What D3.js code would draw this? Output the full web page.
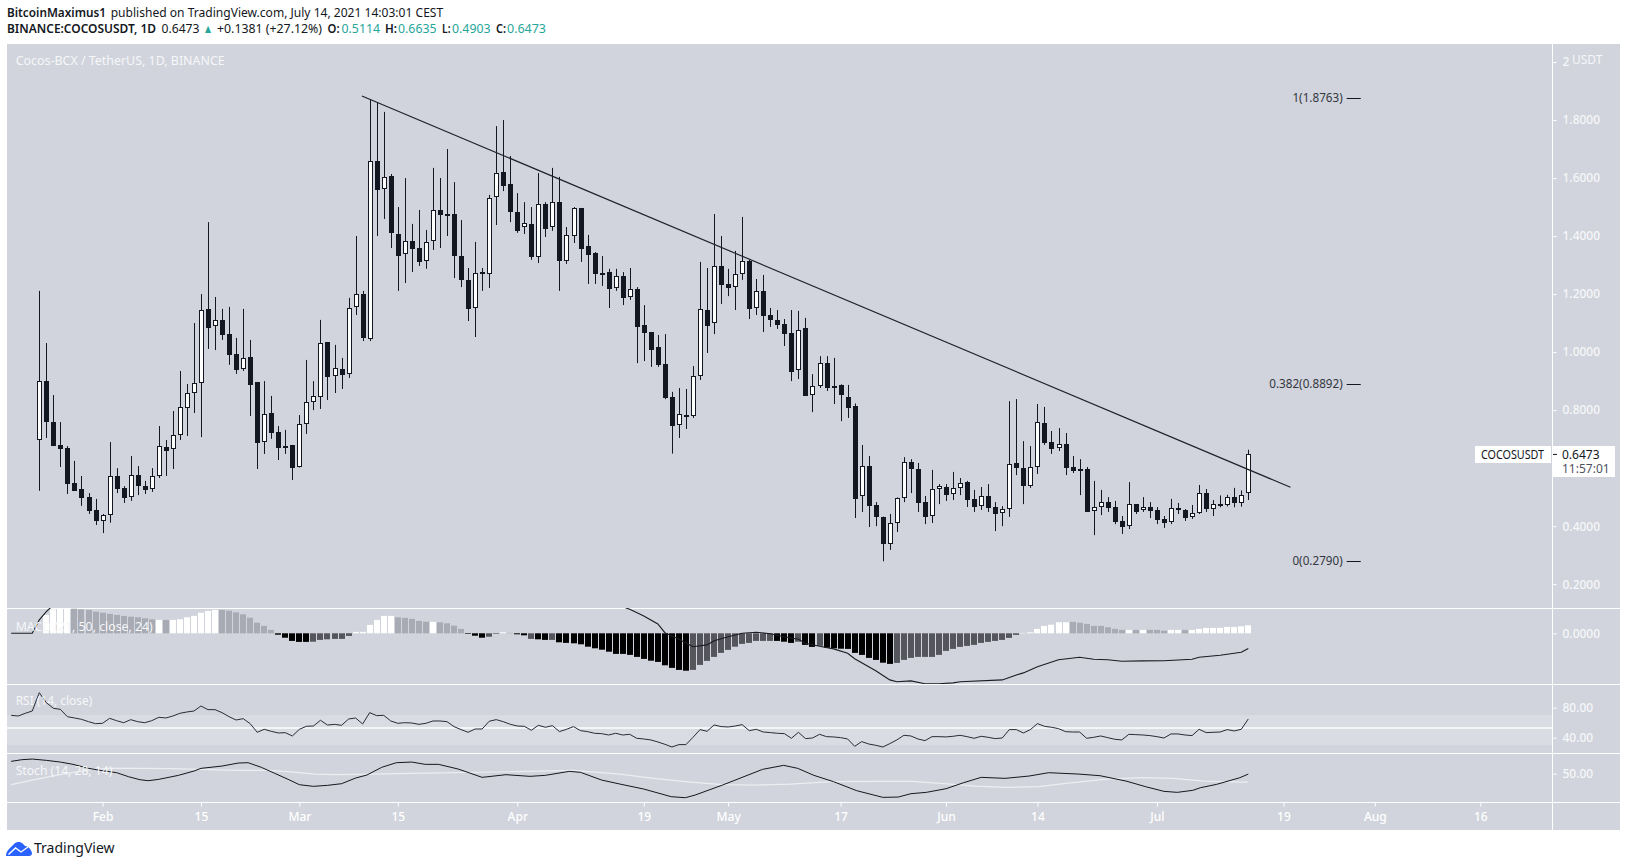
<!DOCTYPE html>
<html>
<head>
<meta charset="utf-8">
<script src="https://cdn.jsdelivr.net/npm/d3@7"></script>
<style>
	body { margin: 0; background: #fff; }
	svg { display: block; font-family: "Noto Sans", sans-serif; }
	.axis path { display: none; }
	.axis line { stroke: #fff; }
	.axis text { fill: #f6f7f9; font-size: 12px; font-weight: 500; font-family: "Noto Sans", sans-serif; }
</style>
</head>
<body>
<svg id="chart" width="1627" height="867"></svg>
<script>
// candles, one per day from firstDay
const firstDay = new Date(Date.UTC(2021, 0, 23));
const opens = [
	.695,.900,.759,.680,.669,.549,.528,.501,.456,.419,
	.437,.572,.532,.498,.576,.538,.526,.571,.673,.664,
	.712,.808,.857,.891,1.149,1.088,1.111,1.062,.993,.941,
	.983,.897,.688,.790,.725,.676,.680,.602,.750,.826,
	.843,1.035,.915,.942,.922,1.153,1.200,1.046,1.659,1.560,
	1.607,1.407,1.336,1.383,1.359,1.312,1.381,1.490,1.475,1.476,
	1.331,1.249,1.150,1.276,1.268,1.532,1.621,1.579,1.483,1.429,
	1.442,1.326,1.511,1.429,1.517,1.312,1.401,1.497,1.366,1.342,
	1.273,1.276,1.219,1.262,1.188,1.218,1.093,1.069,1.018,.959,
	.845,.748,.782,.778,.915,1.145,1.098,1.297,1.235,1.222,
	1.267,1.314,1.150,1.211,1.128,1.111,1.097,1.066,.936,1.083,
	.850,.881,.961,.882,.885,.844,.814,.502,.606,.473,
	.432,.337,.409,.495,.621,.597,.483,.433,.526,.535,
	.509,.530,.552,.494,.467,.504,.466,.443,.457,.618,
	.600,.538,.602,.756,.690,.667,.683,.604,.596,.597,
	.450,.464,.483,.466,.418,.398,.476,.453,.466,.456,
	.425,.412,.463,.456,.429,.443,.513,.457,.470,.471,
	.499,.481,.5114
];
const highs = [
	1.211,1.031,.852,.759,.676,.625,.573,.514,.494,.442,
	.690,.600,.538,.642,.607,.556,.600,.745,.697,.797,
	.935,.890,1.100,1.200,1.448,1.190,1.149,1.156,1.049,1.149,
	1.042,.897,.900,.849,.745,.732,.680,.783,.973,.900,
	1.111,1.035,1.025,.980,1.187,1.400,1.211,1.872,1.862,1.828,
	1.614,1.500,1.600,1.442,1.490,1.421,1.635,1.600,1.700,1.586,
	1.455,1.290,1.380,1.290,1.542,1.779,1.800,1.676,1.548,1.517,
	1.500,1.617,1.517,1.635,1.604,1.431,1.500,1.497,1.404,1.345,
	1.331,1.287,1.287,1.276,1.290,1.224,1.162,1.069,1.059,1.062,
	.863,.876,.873,.952,1.311,1.290,1.476,1.400,1.287,1.349,
	1.466,1.318,1.252,1.266,1.152,1.145,1.114,1.145,1.142,1.118,
	.924,.986,.986,.980,.889,.887,.823,.680,.642,.483,
	.433,.442,.499,.638,.631,.618,.504,.594,.545,.545,
	.587,.566,.556,.525,.535,.545,.483,.469,.831,.838,
	.693,.676,.821,.811,.728,.738,.721,.642,.631,.604,
	.556,.525,.500,.487,.435,.552,.476,.500,.483,.466,
	.435,.494,.480,.459,.473,.542,.528,.490,.506,.508,
	.532,.523,.6635
];
const lows = [
	.522,.704,.676,.604,.511,.521,.470,.442,.404,.376,
	.412,.514,.480,.487,.507,.511,.518,.566,.573,.597,
	.697,.711,.790,.707,1.011,1.007,1.042,.956,.925,.935,
	.780,.597,.649,.701,.628,.649,.559,.602,.718,.800,
	.804,.835,.859,.873,.911,1.128,1.038,1.038,1.400,1.459,
	1.359,1.211,1.238,1.276,1.297,1.287,1.352,1.359,1.400,1.255,
	1.224,1.107,1.052,1.211,1.221,1.438,1.555,1.448,1.411,1.407,
	1.318,1.307,1.397,1.418,1.211,1.304,1.376,1.311,1.235,1.235,
	1.228,1.152,1.211,1.162,1.180,.962,.969,.949,.949,.838,
	.650,.704,.735,.773,.904,.997,1.062,1.166,1.193,1.145,
	1.249,1.114,1.128,1.069,1.087,1.080,1.021,.900,.907,.849,
	.793,.876,.866,.821,.762,.773,.428,.449,.397,.400,
	.279,.318,.380,.483,.514,.449,.407,.411,.476,.487,
	.490,.507,.466,.449,.456,.449,.383,.400,.432,.576,
	.476,.532,.580,.680,.649,.659,.576,.583,.507,.449,
	.369,.438,.449,.407,.373,.390,.442,.449,.428,.407,
	.394,.407,.442,.418,.425,.442,.449,.435,.465,.468,
	.465,.467,.4903
];
const closes = [
	.899,.760,.676,.666,.545,.521,.497,.452,.419,.438,
	.572,.528,.497,.575,.538,.525,.572,.675,.659,.713,
	.810,.858,.892,1.144,1.083,1.110,1.059,.990,.938,.979,
	.887,.687,.786,.721,.670,.669,.600,.751,.827,.848,
	1.030,.914,.944,.921,1.151,1.199,1.049,1.658,1.559,1.602,
	1.411,1.331,1.382,1.355,1.311,1.378,1.489,1.473,1.473,1.331,
	1.249,1.149,1.272,1.269,1.530,1.616,1.573,1.483,1.418,1.444,
	1.328,1.509,1.424,1.516,1.314,1.403,1.496,1.355,1.335,1.269,
	1.269,1.218,1.261,1.187,1.216,1.087,1.066,1.007,.956,.842,
	.745,.786,.779,.917,1.147,1.090,1.296,1.231,1.221,1.268,
	1.313,1.149,1.209,1.125,1.111,1.093,1.062,.931,1.075,.849,
	.882,.961,.876,.877,.849,.807,.494,.606,.469,.432,
	.339,.410,.496,.620,.597,.480,.432,.527,.537,.507,
	.530,.548,.490,.466,.503,.463,.442,.458,.613,.600,
	.538,.603,.758,.687,.666,.682,.600,.590,.591,.449,
	.465,.482,.463,.414,.397,.475,.449,.465,.452,.421,
	.411,.461,.456,.428,.444,.513,.459,.475,.475,.499,
	.479,.509,.6473
];

// drawings on the price pane, days counted from firstDay
const trendDays = [45.9, 178];
const trendPrices = [1.883, .534];
const fibRatios = ["1", "0.382", "0"];
const fibPrices = [1.8763, .8892, .279];
const fibDays = [186, 188];

// macd histogram, one bar per candle
const macdHist = [
	0,.092,.120,.130,.133,.123,.120,.117,.108,.103,
	.097,.092,.087,.083,.080,.075,.070,.067,.067,.067,
	.070,.080,.087,.103,.112,.117,.117,.113,.105,.095,
	.078,.053,.037,.017,-.007,-.022,-.038,-.043,-.043,-.042,
	-.033,-.030,-.028,-.028,-.013,.007,.007,.042,.067,.087,
	.087,.080,.077,.072,.062,.058,.057,.055,.050,.038,
	.022,-.003,-.012,-.022,-.017,-.003,.005,.002,-.005,-.010,
	-.028,-.030,-.033,-.033,-.045,-.048,-.050,-.055,-.067,-.075,
	-.082,-.092,-.103,-.103,-.108,-.118,-.128,-.137,-.143,-.160,
	-.173,-.183,-.187,-.183,-.158,-.138,-.118,-.098,-.083,-.067,
	-.053,-.048,-.038,-.038,-.038,-.038,-.042,-.048,-.042,-.058,
	-.068,-.063,-.072,-.075,-.077,-.078,-.098,-.108,-.123,-.133,
	-.147,-.153,-.148,-.133,-.123,-.118,-.118,-.118,-.108,-.088,
	-.078,-.068,-.063,-.058,-.048,-.043,-.038,-.033,-.023,-.008,
	.002,.005,.022,.037,.043,.055,.055,.057,.053,.047,
	.037,.037,.030,.022,.017,.017,.017,.017,.017,.017,
	.013,.017,.017,.017,.017,.022,.027,.027,.027,.032,
	.032,.035,.040
];
// runs of bar state: a up above zero, b down above zero, c down below zero, d up below zero
const macdRuns = [
	["a",5],["b",12],["a",1],["b",1],["a",7],["b",8],["c",5],["d",6],["a",6],["b",5],
	["a",1],["b",4],["c",3],["d",2],["a",1],["b",1],["c",2],["d",1],["c",2],["d",1],
	["c",19],["d",12],["c",3],["d",1],["c",2],["d",1],["c",10],["d",18],["a",7],["b",8],
	["a",1],["b",1],["a",1],["b",3],["a",2],["b",1],["a",9]
];
const macdLineDays = [-4,-1,0,1,2,3,40,70,84,86,88,89,91,93,95,96,98,100,102,104,106,108,109,111,113,115,116,119,121,122,124,126,128,130,131,137,139,140,142,145,148,150,152,154,157,160,164,165,168,171,172];
const macdLine = [0,0,.067,.108,.142,.170,.300,.300,.120,.087,.047,.003,-.030,-.067,-.058,-.037,-.017,0,.005,-.002,-.017,-.030,-.050,-.065,-.078,-.100,-.127,-.187,-.233,-.242,-.238,-.252,-.252,-.248,-.242,-.233,-.208,-.198,-.167,-.132,-.120,-.130,-.132,-.140,-.138,-.137,-.130,-.120,-.110,-.095,-.076];

// rsi, one value a day starting 4 days before the first candle
const rsiStart = -4;
const rsiValues = [
	69.8,68.9,72.5,75.6,
	100,86.7,79.2,77.8,68,66.3,64.5,61.4,58.7,59.2,
	65.8,62.7,60,64,61.4,60,62.7,67.2,66.3,68.9,
	72.5,74.3,75.6,82.3,77.4,77.4,73.4,68,63.6,65.4,
	58.7,47.2,51.2,48.5,46.3,46.7,42.3,51.2,55.2,55.6,
	63.2,56.9,57.8,56.5,64.9,66.3,58.3,73.4,69.4,69.8,
	62.3,59.2,60,59.6,57.8,59.2,62.3,62.3,61.4,54.8,
	50.8,47.2,51.6,51.6,61.9,64.1,61.4,57.9,55.6,55.2,
	49.9,56.5,53.9,56.1,48.1,51.2,54.8,49.4,48.1,45.9,
	45.4,43.6,45.9,43.6,44.5,39.2,38.3,37,34.3,31.2,
	27.6,30.8,30.8,40.5,50.8,48.5,57,54.8,54.3,55.6,
	57.4,49.4,51.2,47.6,46.8,45.9,45.4,39.2,47.2,38.8,
	39.6,44.5,41.4,41,40.1,38.3,28.5,34.8,31.6,29.9,
	27.6,32.1,37,43.2,42.3,38.3,36.1,41.4,41.4,41,
	41.9,43.2,41.4,39.2,41.9,40.5,38.8,39.6,50.8,50.8,
	46.3,50.8,58.8,55.2,53.9,52.1,48.1,47.6,47.6,39.2,
	40.5,42.3,40.1,37.9,37,44.5,44.1,43.6,42.8,41.4,
	39.6,45,45,43.6,42.8,51.2,46.8,47.2,47.6,50.8,
	49,51.2,65
];
const rsiBand = [70, 30];
const rsiLevel = 53;

const stochKDays = [-4,-2.5,-1,1,3,4.8,7,9,11,12.7,14.3,15.5,17,19.8,22,23,26,28.3,29.7,31.6,33.5,35.4,37,39,41,43,45,46.6,48.7,50.8,53,54.9,56.8,59.6,63,66.4,69.8,72,75.4,77,80,82.6,86,89.9,91.9,93.3,97.2,102.9,105.9,107.9,110.2,113,116.3,120,122.2,124,126.2,129,131.5,134,137.4,140.8,143.6,147.8,150.9,154.6,157.4,160,161.9,164.1,165.2,167.5,170.8,172];
const stochK = [74.7,78,79.3,76.7,73.3,68.7,60.7,56,52,44,38,36,38.7,46.7,55.3,60.7,65.3,71.3,72,62.7,50.7,38.7,28,24.7,26.7,30,41.3,47.3,62.7,72,73.3,68.7,68.7,59.3,42.7,48,44.7,46.7,54.7,52.7,37.3,29.3,19.3,4,2,7.3,27.3,58.7,66.7,60.7,46.7,34,16,2.7,3.3,10,12.7,20,32,42.7,40.7,45.3,52,49.3,46,35.3,24,14.7,12.7,16.7,22,28.7,42,49.3];
const stochDDays = [-4,-1,1.8,4.6,7.5,10.3,14.1,18.8,22.6,28.3,32.6,35.4,39.2,42.5,47.3,54.9,67.5,76,82.6,87.7,92.7,97.2,101.7,106.8,113,118.6,124.2,128.7,133.2,137.7,142.2,146.1,151.8,156.9,161.3,165.8,170.8,172];
const stochD = [28,37.3,45.3,52,58.7,60.7,60.7,60,58.7,56.7,56.7,54,49.3,48,49.3,51.3,54,56.7,49.3,40,33.3,28,27.3,29.3,34,34.7,34.7,30,25.3,22.7,24,30.7,39.3,42,40.7,35.3,33.3,33.3];

// axis ticks
const priceTicks = [2, 1.8, 1.6, 1.4, 1.2, 1, .8, .4, .2];
const macdTicks = [0];
const rsiTicks = [80, 40];
const stochTicks = [50];
const timeTicks = ["2021-02-01","2021-02-15","2021-03-01","2021-03-15","2021-04-01","2021-04-19","2021-05-01","2021-05-17","2021-06-01","2021-06-14","2021-07-01","2021-07-19","2021-08-01","2021-08-16"];
const timeLabels = ["Feb","15","Mar","15","Apr","19","May","17","Jun","14","Jul","19","Aug","16"];

// layout
const paneLeft = 7, paneRight = 1620, axisX = 1552;
const paneTops = [44, 608, 684, 753, 802, 830];
const inkColor = "#131722";
const tealColor = "#26a69a";

const svg = d3.select("#chart");
const dayDate = (i) => new Date(firstDay.getTime() + i * 864e5);

const xscale = d3.scaleUtc()
	.domain([firstDay, dayDate(172)])
	.range([39.3, 1248.3]);
const dayX = (i) => xscale(dayDate(i));
const priceY = d3.scaleLinear().domain([0, 2]).range([642.2, 62]);
const macdY = d3.scaleLinear().domain([0, .1]).range([633.3, 613.3]);
const rsiY = d3.scaleLinear().domain([40, 80]).range([737.7, 707.7]);
const stochY = d3.scaleLinear().domain([50, 100]).range([773.7, 748.7]);

// background
svg.append("rect")
	.attr("x", paneLeft).attr("y", paneTops[0])
	.attr("width", paneRight - paneLeft).attr("height", paneTops[5] - paneTops[0])
	.attr("fill", "#d1d4dc");

// clip for each pane
const defs = svg.append("defs");
[["clipPrice", 0], ["clipMacd", 1], ["clipRsi", 2], ["clipStoch", 3]].forEach(([id, i]) => {
	defs.append("clipPath").attr("id", id).append("rect")
		.attr("x", paneLeft).attr("y", paneTops[i])
		.attr("width", axisX - paneLeft).attr("height", paneTops[i + 1] - paneTops[i]);
});

// header, each piece squeezed to the width it has in the screenshot
const headerPieces = [
	["BitcoinMaximus1", 7, 99, 17, 600, inkColor],
	["published on TradingView.com, July 14, 2021 14:03:01 CEST", 110.7, 332.5, 17, 400, inkColor],
	["BINANCE:COCOSUSDT, 1D", 7, 149, 33, 600, inkColor],
	["0.6473", 161.5, 38, 33, 400, inkColor],
	["▲", 203, 10, 33, 400, tealColor],
	["+0.1381 (+27.12%)", 217, 105, 33, 400, inkColor],
	["O:", 327.5, 12, 33, 600, inkColor],
	["0.5114", 341.5, 38.5, 33, 400, tealColor],
	["H:", 385, 12, 33, 600, inkColor],
	["0.6635", 398, 38.5, 33, 400, tealColor],
	["L:", 442, 8.5, 33, 600, inkColor],
	["0.4903", 452, 38.5, 33, 400, tealColor],
	["C:", 496, 10, 33, 600, inkColor],
	["0.6473", 507, 39, 33, 400, tealColor]
];
svg.append("g").selectAll("text").data(headerPieces).join("text")
	.attr("x", (d) => d[1]).attr("y", (d) => d[3])
	.attr("textLength", (d) => d[2]).attr("lengthAdjust", "spacingAndGlyphs")
	.attr("font-weight", (d) => d[4]).attr("fill", (d) => d[5])
	.style("font-size", "12.5px")
	.text((d) => d[0]);

// rsi band and level go under the line
const rsiGroup = svg.append("g").attr("clip-path", "url(#clipRsi)");
rsiGroup.append("rect")
	.attr("x", paneLeft).attr("width", axisX - paneLeft)
	.attr("y", rsiY(rsiBand[0])).attr("height", rsiY(rsiBand[1]) - rsiY(rsiBand[0]))
	.attr("fill", "#fff").attr("opacity", .2);
rsiGroup.append("line")
	.attr("x1", paneLeft).attr("x2", axisX)
	.attr("y1", rsiY(rsiLevel)).attr("y2", rsiY(rsiLevel))
	.attr("stroke", "#f4f5f7").attr("stroke-width", 2);

// pane separators and price axis line
svg.append("g").selectAll("line").data(paneTops.slice(1, 5)).join("line")
	.attr("x1", paneLeft).attr("x2", paneRight)
	.attr("y1", (d) => d + .5).attr("y2", (d) => d + .5)
	.attr("stroke", "#fff");
svg.append("line")
	.attr("x1", axisX + .5).attr("x2", axisX + .5)
	.attr("y1", paneTops[0]).attr("y2", paneTops[5])
	.attr("stroke", "#fff");

// candles
const candles = svg.append("g").attr("clip-path", "url(#clipPrice)")
	.selectAll("g").data(opens).join("g");
const snapX = (i) => Math.round(dayX(i)) + .5;
candles.append("line")
	.attr("x1", (d, i) => snapX(i)).attr("x2", (d, i) => snapX(i))
	.attr("y1", (d, i) => priceY(highs[i])).attr("y2", (d, i) => priceY(lows[i]))
	.attr("stroke", inkColor);
candles.append("rect")
	.attr("x", (d, i) => snapX(i) - 2).attr("width", 4)
	.attr("y", (d, i) => Math.round(priceY(Math.max(opens[i], closes[i]))) + .5)
	.attr("height", (d, i) => Math.max(1, Math.round(Math.abs(priceY(opens[i]) - priceY(closes[i])) - 1)))
	.attr("fill", (d, i) => (closes[i] > opens[i] ? "#fff" : inkColor))
	.attr("stroke", inkColor);

// trend line
svg.append("line")
	.attr("x1", dayX(trendDays[0])).attr("y1", priceY(trendPrices[0]))
	.attr("x2", dayX(trendDays[1])).attr("y2", priceY(trendPrices[1]))
	.attr("stroke", "#1f222b").attr("stroke-width", 1.2);

// fib levels
const fib = svg.append("g").selectAll("g").data(fibPrices).join("g");
fib.append("line")
	.attr("x1", dayX(fibDays[0])).attr("x2", dayX(fibDays[1]))
	.attr("y1", (d) => Math.round(priceY(d)) + .5).attr("y2", (d) => Math.round(priceY(d)) + .5)
	.attr("stroke", inkColor);
fib.append("text")
	.attr("x", dayX(fibDays[0]) - 4).attr("y", (d) => priceY(d))
	.attr("dy", "0.35em").attr("text-anchor", "end")
	.style("font-size", "11.7px").attr("fill", "#333741")
	.text((d, i) => `${fibRatios[i]}(${d.toFixed(4)})`);

// macd pane
const macdGroup = svg.append("g").attr("clip-path", "url(#clipMacd)");
const macdStates = macdRuns.flatMap(([s, n]) => d3.range(n).map(() => s));
const macdColor = { a: "#ffffff", b: "#a8aab4", c: "#000000", d: "#55565b" };
macdGroup.selectAll("rect").data(macdHist).join("rect")
	.attr("x", (d, i) => Math.round(dayX(i)) - 3)
	.attr("width", 6)
	.attr("y", (d) => Math.min(macdY(d), macdY(0)))
	.attr("height", (d) => Math.abs(macdY(d) - macdY(0)))
	.attr("fill", (d, i) => macdColor[macdStates[i]]);
const lineFor = (yscale) => d3.line().x((d) => dayX(d[0])).y((d) => yscale(d[1]));
macdGroup.append("path")
	.attr("d", lineFor(macdY)(d3.zip(macdLineDays, macdLine)))
	.attr("fill", "none").attr("stroke", "#1a1c22").attr("stroke-width", 1.1);

// rsi pane
rsiGroup.append("path")
	.attr("d", lineFor(rsiY)(rsiValues.map((v, i) => [rsiStart + i, v])))
	.attr("fill", "none").attr("stroke", "#2a2c33").attr("stroke-width", 1);

// stoch pane
const stochGroup = svg.append("g").attr("clip-path", "url(#clipStoch)");
stochGroup.append("path")
	.attr("d", lineFor(stochY)(d3.zip(stochDDays, stochD)))
	.attr("fill", "none").attr("stroke", "#eceef2").attr("stroke-width", 1.2);
stochGroup.append("path")
	.attr("d", lineFor(stochY)(d3.zip(stochKDays, stochK)))
	.attr("fill", "none").attr("stroke", "#15171c").attr("stroke-width", 1);

// pane titles
const paneTitles = [
	["Cocos-BCX / TetherUS, 1D, BINANCE", 65, 209],
	["MACD (21, 50, close, 24)", 631, 137],
	["RSI (14, close)", 705, 76.6],
	["Stoch (14, 28, 14)", 775, 96.6]
];
svg.append("g").selectAll("text").data(paneTitles).join("text")
	.attr("x", 15.7).attr("y", (d) => d[1])
	.attr("textLength", (d) => d[2]).attr("lengthAdjust", "spacingAndGlyphs")
	.style("font-size", "12.5px").attr("fill", "#f6f7f9")
	.text((d) => d[0]);

// price labels at the last bar
const lastY = priceY(closes[closes.length - 1]);
svg.append("rect").attr("x", 1475).attr("y", 446).attr("width", 76).attr("height", 17).attr("fill", "#fff");
svg.append("rect").attr("x", 1553).attr("y", 446).attr("width", 62).attr("height", 31).attr("fill", "#fff");

// axes
const rightAxis = (yscale, ticks, fmt) => svg.append("g")
	.attr("class", "axis")
	.attr("transform", `translate(${axisX + .5},0)`)
	.call(d3.axisRight(yscale).tickValues(ticks).tickSize(4).tickPadding(6).tickFormat(fmt));
rightAxis(priceY, priceTicks, (d) => (d === 2 ? "2" : d3.format(".4f")(d)));
rightAxis(macdY, macdTicks, d3.format(".4f"));
rightAxis(rsiY, rsiTicks, d3.format(".2f"));
rightAxis(stochY, stochTicks, d3.format(".2f"));

const timeDates = timeTicks.map((d) => new Date(d + "T00:00:00Z"));
const timeAxis = svg.append("g")
	.attr("class", "axis")
	.attr("transform", `translate(0,${paneTops[4] + .5})`)
	.call(d3.axisBottom(xscale).tickValues(timeDates).tickSize(4).tickPadding(6)
		.tickFormat((d, i) => timeLabels[i]));
timeAxis.selectAll("text").attr("font-weight", 600).style("fill", "#fff");

// texts on the last price labels
svg.append("text").attr("x", 1481).attr("y", lastY).attr("dy", "0.35em")
	.attr("textLength", 63).attr("lengthAdjust", "spacingAndGlyphs")
	.style("font-size", "12px").attr("fill", inkColor).text("COCOSUSDT");
svg.append("line").attr("x1", axisX + 1).attr("x2", axisX + 5).attr("y1", lastY).attr("y2", lastY).attr("stroke", inkColor);
svg.append("text").attr("x", 1562).attr("y", lastY).attr("dy", "0.35em")
	.style("font-size", "12px").attr("fill", inkColor).text("0.6473");
svg.append("text").attr("x", 1562).attr("y", lastY + 14).attr("dy", "0.35em")
	.style("font-size", "12px").attr("fill", "#50535e").text("11:57:01");
svg.append("text").attr("x", 1572).attr("y", 60).attr("dy", "0.35em")
	.style("font-size", "12px").attr("fill", "#f6f7f9").text("USDT");

// footer logo
const logo = svg.append("g");
logo.append("path")
	.attr("d", "M6,856 C6,853 7,851 9,849 L14,844 C16,842 19,841.5 21,842.5 C23,843.5 24,845 25,846 C28,846 31,849 32,853 C32,855 31,856 29,856 Z")
	.attr("fill", "#2962ff");
logo.append("path")
	.attr("d", "M8.5,854.5 L15.5,848 L21,852 L28,847")
	.attr("fill", "none").attr("stroke", "#fff").attr("stroke-width", 1.4);
svg.append("text").attr("x", 34).attr("y", 853)
	.style("font-size", "14px").attr("fill", inkColor).text("TradingView");
</script>
</body>
</html>
